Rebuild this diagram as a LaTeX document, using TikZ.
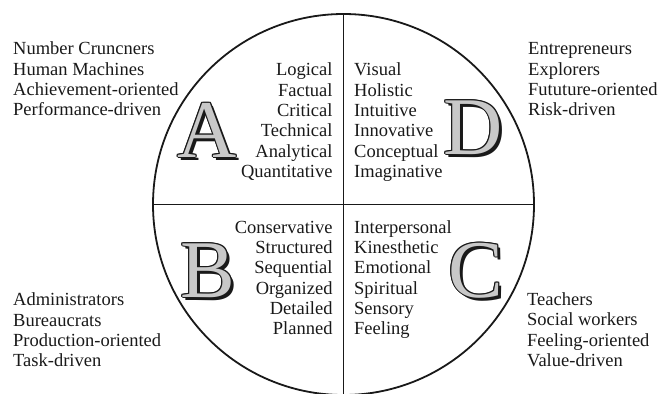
\documentclass[tikz,border=0pt]{standalone}
\usepackage{fontspec}
\setmainfont{Liberation Serif}
\definecolor{lettergray}{RGB}{200,200,200}
\definecolor{ink}{RGB}{25,25,25}
\tikzset{
  txt/.style={font=\fontsize{18.5}{20}\selectfont, inner sep=0pt, text=ink},
  bigl/.style={font=\fontsize{82}{82}\selectfont, inner sep=0pt, anchor=base},
  rim/.style={line width=1.8pt, draw=ink}
}
\newcommand{\bigletter}[4]{%
  \node[bigl, text=ink] (#1s) at ({#2+3},{#3+3}) {#4};
  \foreach \dx/\dy in {1/0,-1/0,0/1,0/-1,0.7/0.7,-0.7/0.7,0.7/-0.7,-0.7/-0.7}
    \node[bigl, text=ink] at ({#2+\dx},{#3+\dy}) {#4};
  \node[bigl, text=lettergray] (#1) at (#2,#3) {#4};
}
\begin{document}
\begin{tikzpicture}[x=1pt,y=-1pt]
\useasboundingbox (0,0) rectangle (668,393);
\clip (0,0) rectangle (668,393);
\coordinate (c) at (343.5,204.5);
\coordinate (top) at (343.5,14);
\coordinate (bot) at (343.5,394);
\coordinate (lft) at (153,204.5);
\coordinate (rgt) at (534,204.5);
\draw[rim] (c) circle [radius=190.5pt];
\draw[rim] (top) -- (bot);
\draw[rim] (lft) -- (rgt);
% big letters
\bigletter{A}{207}{157}{A}
\bigletter{D}{473}{154}{D}
\bigletter{B}{208}{297}{B}
\bigletter{C}{476}{297}{C}
% quadrant words
\foreach \t [count=\i] in {Logical,Factual,Critical,Technical,Analytical,Quantitative}
  \node[txt, anchor=base east] (qa\i) at (332.7,{76+20.3*(\i-1)}) {\t};
\foreach \t [count=\i] in {Visual,Holistic,Intuitive,Innovative,Conceptual,Imaginative}
  \node[txt, anchor=base west] (qd\i) at (354,{76+20.3*(\i-1)}) {\t};
\foreach \t [count=\i] in {Conservative,Structured,Sequential,Organized,Detailed,Planned}
  \node[txt, anchor=base east] (qb\i) at (332.7,{233.3+20.3*(\i-1)}) {\t};
\foreach \t [count=\i] in {Interpersonal,Kinesthetic,Emotional,Spiritual,Sensory,Feeling}
  \node[txt, anchor=base west] (qc\i) at (354,{233.3+20.3*(\i-1)}) {\t};
% outer labels
\foreach \t [count=\i] in {Number Cruncners,Human Machines,Achievement-oriented,Performance-driven}
  \node[txt, anchor=base west] (oa\i) at (13,{55+20.3*(\i-1)}) {\t};
\foreach \t [count=\i] in {Entrepreneurs,Explorers,Fututure-oriented,Risk-driven}
  \node[txt, anchor=base west] (od\i) at (528,{55+20.3*(\i-1)}) {\t};
\foreach \t [count=\i] in {Administrators,Bureaucrats,Production-oriented,Task-driven}
  \node[txt, anchor=base west] (ob\i) at (13,{305.7+20.3*(\i-1)}) {\t};
\foreach \t [count=\i] in {Teachers,Social workers,Feeling-oriented,Value-driven}
  \node[txt, anchor=base west] (oc\i) at (527,{305.5+20.3*(\i-1)}) {\t};
\end{tikzpicture}
\end{document}
